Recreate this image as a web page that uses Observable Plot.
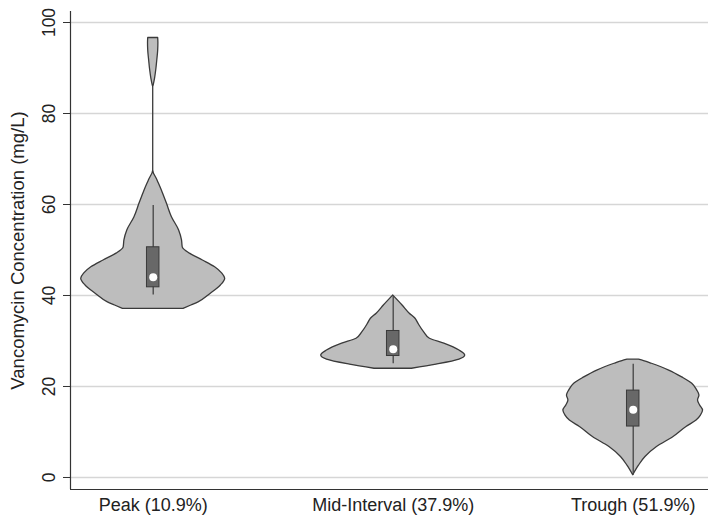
<!DOCTYPE html>
<html><head><meta charset="utf-8">
<script src="https://cdn.jsdelivr.net/npm/d3@7"></script>
<script src="https://cdn.jsdelivr.net/npm/@observablehq/plot@0.6"></script>
<style>body{margin:0;background:#fff}#chart{width:708px;height:516px}</style>
</head><body><div id="chart"></div>
<script>
// ---- data ----
const categories = ["Peak (10.9%)", "Mid-Interval (37.9%)", "Trough (51.9%)"];
const yTitle = "Vancomycin Concentration (mg/L)";
const yTicks = [0, 20, 40, 60, 80, 100];

// violin outlines: concentration (mg/L) and relative density (1 = widest)
const peakConc    = [37.05, 37.8, 38.5, 40.4, 42.2, 43.7, 44.8, 46.2, 47.7, 49.2, 50.6, 52.1, 54.3, 57.2, 60.2, 63.1, 65.3, 67.5, 85.8, 86.2, 87.6, 89.5, 91.6, 93.8, 95.5, 96.6];
const peakDensity = [0.42, 0.53, 0.63, 0.80, 0.94, 1.00, 0.96, 0.86, 0.69, 0.51, 0.41, 0.40, 0.36, 0.26, 0.19, 0.12, 0.06, 0, 0, 0.007, 0.025, 0.042, 0.056, 0.069, 0.072, 0.069];
const midConc     = [23.9, 24.8, 25.9, 26.8, 27.9, 29.4, 30.5, 31.9, 33.8, 34.9, 36.0, 37.8, 40.0];
const midDensity  = [0.26, 0.60, 0.92, 1.00, 0.92, 0.71, 0.51, 0.43, 0.35, 0.31, 0.23, 0.13, 0];
const troughConc    = [0.5, 2.6, 4.5, 6.7, 8.9, 11.1, 12.5, 13.6, 14.7, 15.8, 16.9, 18.0, 19.1, 20.6, 22.0, 23.5, 25.0, 25.6, 25.9];
const troughDensity = [0, 0.08, 0.17, 0.33, 0.56, 0.74, 0.88, 0.94, 0.97, 0.93, 0.90, 0.92, 0.89, 0.82, 0.68, 0.50, 0.26, 0.15, 0.08];

// box plot summaries
const whiskerLow  = [40.1, 25.0, 0.5];
const q1          = [41.8, 26.7, 11.2];
const median      = [44.0, 28.2, 14.9];
const q3          = [50.6, 32.2, 19.1];
const whiskerHigh = [59.8, 39.8, 24.9];

// ---- build tables ----
const positions = [1, 2, 3];
const halfWidth = 0.3;   // violin half-width at density 1 (category units)
const boxHalf = 0.026;
const concs = [peakConc, midConc, troughConc];
const dens = [peakDensity, midDensity, troughDensity];
const violin = [];
positions.forEach((p, i) => concs[i].forEach((c, j) => violin.push({pos: p, conc: c, d: dens[i][j]})));
const boxes = positions.map((p, i) => ({pos: p, lo: whiskerLow[i], q1: q1[i], med: median[i], q3: q3[i], hi: whiskerHigh[i]}));

const xDomain = [0.6554, 3.3137];
const yDomain = [-2.64, 102.42];

const chart = Plot.plot({
  width: 708, height: 516,
  marginTop: 11, marginBottom: 27, marginLeft: 70, marginRight: 0,
  style: {fontFamily: "'Liberation Sans', Arial, sans-serif", fontSize: "17.5px", color: "#222", background: "#fff"},
  x: {type: "linear", domain: xDomain, axis: null},
  y: {domain: yDomain, axis: null},
  marks: [
    Plot.gridY(yTicks, {stroke: "#d6d6d6", strokeOpacity: 1, strokeWidth: 1.3}),
    Plot.axisY(yTicks, {tickSize: 7, tickPadding: 8.5, tickRotate: -90, label: null, stroke: "#333", fontSize: 17.5}),
    Plot.axisX(positions, {tickSize: 0, tickPadding: 9, tickFormat: i => categories[i - 1], label: null, fontSize: 18}),
    Plot.ruleX([xDomain[0]], {stroke: "#333", strokeWidth: 1.2}),
    Plot.ruleY([yDomain[0]], {stroke: "#333", strokeWidth: 1.2}),
    Plot.text([yTitle], {frameAnchor: "left", textAnchor: "middle", lineAnchor: "middle", dx: -52, rotate: -90, fontSize: 18.5, fill: "#222", text: d => d}),
    Plot.areaX(violin, {
      y: "conc",
      x1: d => d.pos - d.d * halfWidth,
      x2: d => d.pos + d.d * halfWidth,
      z: "pos",
      curve: "monotone-y",
      fill: "#bdbdbd", stroke: "#3a3a3a", strokeWidth: 1.3
    }),
    Plot.ruleX(boxes, {x: "pos", y1: "lo", y2: "hi", stroke: "#444", strokeWidth: 1.3}),
    Plot.rect(boxes, {x1: d => d.pos - boxHalf, x2: d => d.pos + boxHalf, y1: "q1", y2: "q3", fill: "#686868", stroke: "#3a3a3a", strokeWidth: 1}),
    Plot.dot(boxes, {x: "pos", y: "med", r: 4, fill: "#fff", stroke: "none"})
  ]
});
document.getElementById("chart").append(chart);
</script></body></html>
